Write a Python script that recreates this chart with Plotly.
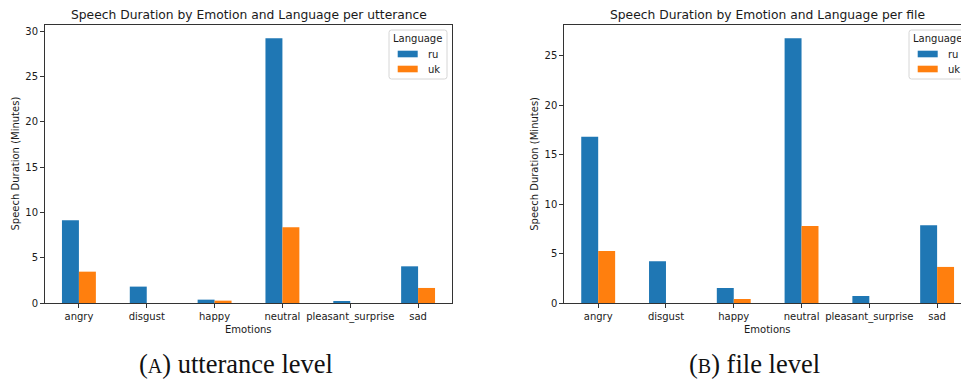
import plotly.graph_objects as go
from plotly.subplots import make_subplots

# ---------------- data ----------------
emotions = ["angry", "disgust", "happy", "neutral", "pleasant_surprise", "sad"]
languages = ["ru", "uk"]
utterance_ru = [9.14, 1.81, 0.37, 29.23, 0.22, 4.05]
utterance_uk = [3.46, 0.0, 0.26, 8.37, 0.0, 1.66]
file_ru = [16.82, 4.22, 1.52, 26.79, 0.71, 7.87]
file_uk = [5.27, 0.0, 0.41, 7.80, 0.0, 3.65]
yticks_utt = [0, 5, 10, 15, 20, 25, 30]
yticks_file = [0, 5, 10, 15, 20, 25]
titles = ["Speech Duration by Emotion and Language per utterance",
          "Speech Duration by Emotion and Language per file"]
captions = ["(<span style='font-size:20px'>A</span>) utterance level",
            "(<span style='font-size:20px'>B</span>) file level"]

W, H = 961, 383
BLUE, ORANGE = "#1f77b4", "#ff7f0e"
FONT = "DejaVu Sans"
TXT = "#1a1a1a"


def fx(px):
    return px / W


def fy(py):
    return 1 - py / H


fig = make_subplots(rows=1, cols=2)

# axes geometry (pixels)
ax1 = dict(l=45, r=452, t=25, b=303)
ax2 = dict(l=564.3, r=971, t=25, b=303)  # right part goes past the page edge

for col, (ru, uk) in enumerate([(utterance_ru, utterance_uk), (file_ru, file_uk)], start=1):
    fig.add_trace(go.Bar(x=emotions, y=ru, name="ru", marker_color=BLUE,
                         marker_line_width=0, showlegend=False), row=1, col=col)
    fig.add_trace(go.Bar(x=emotions, y=uk, name="uk", marker_color=ORANGE,
                         marker_line_width=0, showlegend=False), row=1, col=col)

ymax1 = max(utterance_ru + utterance_uk) * 1.05
ymax2 = max(file_ru + file_uk) * 1.05

# visible x-range of the right axes (clipped at page edge)
units_per_px = 6.0 / (ax2["r"] - ax2["l"])
x2_right = -0.5 + (W - ax2["l"]) * units_per_px

common_x = dict(type="category", showline=True, linecolor="#333", linewidth=1,
                ticks="outside", ticklen=4, tickwidth=1, tickcolor="#333",
                tickfont=dict(family=FONT, size=10, color=TXT), showgrid=False,
                zeroline=False, mirror=True, automargin=False)
common_y = dict(showline=True, linecolor="#333", linewidth=1,
                ticks="outside", ticklen=4, tickwidth=1, tickcolor="#333",
                tickfont=dict(family=FONT, size=10, color=TXT), showgrid=False,
                zeroline=False, automargin=False)

fig.update_layout(
    width=W, height=H, margin=dict(l=0, r=0, t=0, b=0, autoexpand=False),
    paper_bgcolor="white", plot_bgcolor="white",
    barmode="group", bargap=0.5, bargroupgap=0,
    showlegend=False,
    xaxis=dict(common_x, domain=[fx(ax1["l"]), fx(ax1["r"])], range=[-0.5, 5.5]),
    yaxis=dict(common_y, domain=[fy(ax1["b"]), fy(ax1["t"])], range=[0, ymax1],
               tickvals=yticks_utt, mirror=True),
    xaxis2=dict(common_x, domain=[fx(ax2["l"]), 1.0], range=[-0.5, x2_right]),
    yaxis2=dict(common_y, domain=[fy(ax2["b"]), fy(ax2["t"])], range=[0, ymax2],
                tickvals=yticks_file, mirror=False),
)

annotations = []
shapes = []
for i, ax in enumerate([ax1, ax2]):
    cx = (ax["l"] + ax["r"]) / 2
    # title
    annotations.append(dict(text=titles[i], x=fx(cx), y=fy(15), xref="paper", yref="paper",
                            showarrow=False, xanchor="center", yanchor="middle",
                            font=dict(family=FONT, size=12.3, color=TXT)))
    # x label
    annotations.append(dict(text="Emotions", x=fx(cx), y=fy(329), xref="paper", yref="paper",
                            showarrow=False, xanchor="center", yanchor="middle",
                            font=dict(family=FONT, size=10, color=TXT)))
    # y label
    annotations.append(dict(text="Speech Duration (Minutes)", x=fx(ax["l"] - 29.5),
                            y=fy((ax["t"] + ax["b"]) / 2), xref="paper", yref="paper",
                            showarrow=False, xanchor="center", yanchor="middle", textangle=-90,
                            font=dict(family=FONT, size=10, color=TXT)))
    # legend (drawn manually)
    bx = 389 if i == 0 else 909
    bx2 = bx + 58
    by, by2 = 30, 79
    r = 2.5
    path = (f"M {fx(bx + r)} {fy(by)} L {fx(bx2 - r)} {fy(by)} Q {fx(bx2)} {fy(by)} {fx(bx2)} {fy(by + r)} "
            f"L {fx(bx2)} {fy(by2 - r)} Q {fx(bx2)} {fy(by2)} {fx(bx2 - r)} {fy(by2)} "
            f"L {fx(bx + r)} {fy(by2)} Q {fx(bx)} {fy(by2)} {fx(bx)} {fy(by2 - r)} "
            f"L {fx(bx)} {fy(by + r)} Q {fx(bx)} {fy(by)} {fx(bx + r)} {fy(by)} Z")
    shapes.append(dict(type="path", path=path, xref="paper", yref="paper",
                       line=dict(color="#d6d6d6", width=1), fillcolor="rgba(255,255,255,0.85)",
                       layer="above"))
    annotations.append(dict(text="Language", x=fx(bx + 28.7), y=fy(39), xref="paper", yref="paper",
                            showarrow=False, xanchor="center", yanchor="middle",
                            font=dict(family=FONT, size=10, color=TXT)))
    for j, (lang, colr) in enumerate(zip(languages, [BLUE, ORANGE])):
        cy = 54 + 15 * j
        shapes.append(dict(type="rect", xref="paper", yref="paper",
                           x0=fx(bx + 8.7), x1=fx(bx + 28.7), y0=fy(cy - 3.3), y1=fy(cy + 3.3),
                           fillcolor=colr, line=dict(width=0), layer="above"))
        annotations.append(dict(text=lang, x=fx(bx + 37), y=fy(cy), xref="paper", yref="paper",
                                showarrow=False, xanchor="left", yanchor="middle",
                                font=dict(family=FONT, size=10, color=TXT)))

# captions
annotations.append(dict(text=captions[0], x=fx(235.5), y=fy(364), xref="paper", yref="paper",
                        showarrow=False, xanchor="center", yanchor="middle",
                        font=dict(family="Liberation Serif", size=26.5, color="#111")))
annotations.append(dict(text=captions[1], x=fx(754), y=fy(364), xref="paper", yref="paper",
                        showarrow=False, xanchor="center", yanchor="middle",
                        font=dict(family="Liberation Serif", size=26.5, color="#111")))

fig.update_layout(annotations=annotations, shapes=shapes)
fig.write_html("out.html", config={"displayModeBar": False},
               post_script="document.body.style.margin='0';document.body.style.overflow='hidden';")
